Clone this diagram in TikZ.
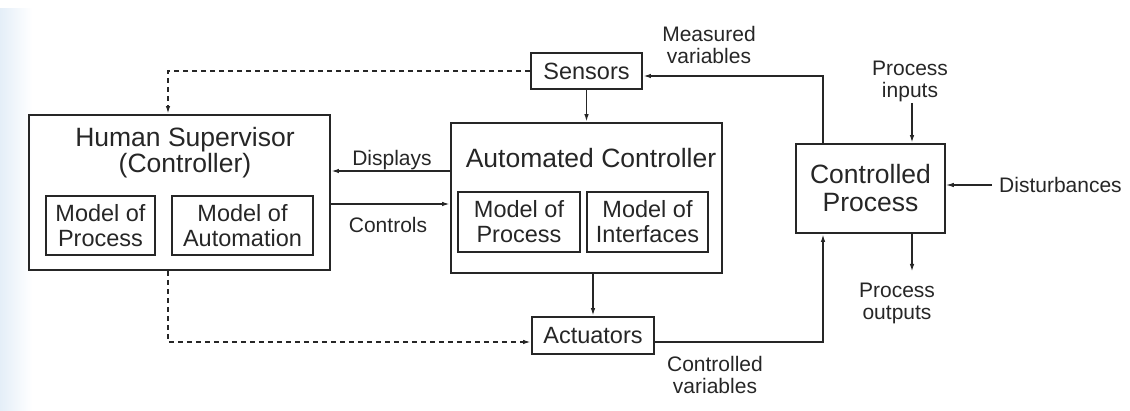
\documentclass[tikz,border=0pt]{standalone}
\usepackage{fontspec}
\setmainfont{Liberation Sans}
\usetikzlibrary{arrows.meta}
\definecolor{ink}{RGB}{38,38,38}
\definecolor{scan}{RGB}{228,238,248}
\begin{document}
\begin{tikzpicture}[x=1pt,y=-1pt,
  box/.style={draw=ink, line width=1.8pt, inner sep=0pt},
  ttl/.style={text=ink, font=\fontsize{26.5}{26}\selectfont, align=center, inner sep=0pt},
  inn/.style={text=ink, font=\fontsize{23.5}{25}\selectfont, align=center},
  lbl/.style={text=ink, font=\fontsize{21}{22}\selectfont, align=center, inner sep=0pt},
  arr/.style={draw=ink, line width=1.7pt, -{Latex[length=8pt,width=4.5pt]}},
  darr/.style={arr, dash pattern=on 5pt off 4pt},
  thk/.style={arr, line width=2.3pt}]
\useasboundingbox (0,0) rectangle (1130,411);
\shade[left color=scan, right color=white] (0,9) rectangle (32,411);

% main boxes
\node[box, minimum width=301pt, minimum height=155pt] (human) at (179.5,192.5) {};
\node[ttl] (humant) at (185,153) {Human Supervisor\\(Controller)};
\node[box, inn, minimum width=109pt, minimum height=59pt] (hproc) at (100.5,225.5) {Model of\\Process};
\node[box, inn, minimum width=141pt, minimum height=59pt] (hauto) at (242.5,225.5) {Model of\\Automation};

\node[box, minimum width=271pt, minimum height=150pt] (auto) at (586.5,198) {};
\node[ttl] (autot) at (591,158) {Automated Controller};
\node[box, inn, minimum width=122pt, minimum height=60pt] (aproc) at (519,222) {Model of\\Process};
\node[box, inn, minimum width=121pt, minimum height=60pt] (aint) at (647.5,222) {Model of\\Interfaces};

\node[box, inn, minimum width=111pt, minimum height=36pt] (sens) at (586.5,71) {Sensors};
\node[box, inn, minimum width=122pt, minimum height=37pt] (act) at (593,335.5) {Actuators};
\node[box, ttl, font=\fontsize{26.5}{28}\selectfont, minimum width=149pt, minimum height=89pt] (cp) at (870.5,188.5) {Controlled\\Process};

% labels
\node[lbl] (disp) at (392,160) {Displays};
\node[lbl] (ctrl) at (388,225) {Controls};
\node[lbl] (meas) at (709,45) {Measured\\variables};
\node[lbl] (pin) at (910,81) {Process\\inputs};
\node[lbl] (pout) at (897,303) {Process\\outputs};
\node[lbl] (cvar) at (715,375) {Controlled\\variables};
\node[lbl, anchor=west] (dist) at (999,185) {Disturbances};

% helper coordinates
\coordinate (hx) at (168,0);
\coordinate (mx) at (823,76);
\coordinate (dy) at (0,171);
\coordinate (cy) at (0,204);
\coordinate (pinx) at (912,103);
\coordinate (poutx) at (912,272);
\coordinate (dstart) at (992,185);

% connectors
\draw[darr] (sens.west) -| (hx |- human.north);
\draw[darr] (hx |- human.south) |- ([yshift=-6.5pt]act.west);
\draw[arr] (sens.south) -- (auto.north);
\draw[arr] (auto.south -| act) -- (act.north);
\draw[arr] (auto.west |- dy) -- (human.east |- dy);
\draw[arr] (human.east |- cy) -- (auto.west |- cy);
\draw[arr] (cp.north -| mx) |- ([yshift=-5pt]sens.east);
\draw[arr] ([yshift=-6.5pt]act.east) -| (cp.south -| mx);
\draw[thk] (pinx) -- (cp.north -| pinx);
\draw[thk] (cp.south -| poutx) -- (poutx);
\draw[arr, line width=1.1pt] (dstart) -- (cp.east |- dstart);
\end{tikzpicture}
\end{document}
